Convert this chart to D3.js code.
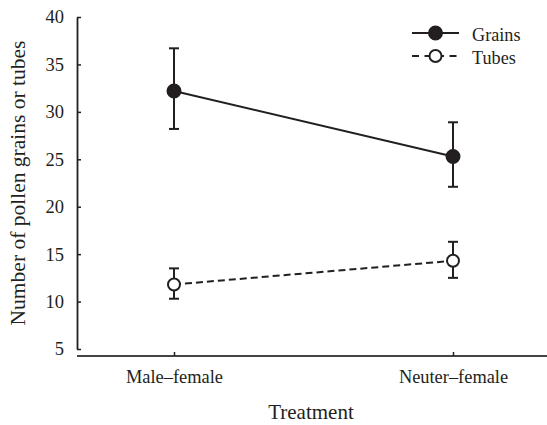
<!DOCTYPE html>
<html>
<head>
<meta charset="utf-8">
<script src="https://cdn.jsdelivr.net/npm/d3@7"></script>
<style>
  body { margin: 0; background: #fff; }
  text { font-family: "Liberation Serif", "DejaVu Serif", serif; fill: #231f20; }
</style>
</head>
<body>
<div id="chart"></div>
<script>
const treatments = ["Male\u2013female", "Neuter\u2013female"];
const grainsMean = [32.2, 25.3];
const grainsLow = [28.2, 22.1];
const grainsHigh = [36.7, 28.9];
const tubesMean = [11.8, 14.3];
const tubesLow = [10.3, 12.5];
const tubesHigh = [13.5, 16.3];
const yTicks = [5, 10, 15, 20, 25, 30, 35, 40];

const ink = "#231f20";
const width = 547, height = 425;

const svg = d3.select("#chart")
    .append("svg")
    .attr("width", width)
    .attr("height", height);

const x = d3.scalePoint()
    .domain(treatments)
    .range([174, 453]);

const y = d3.scaleLinear()
    .domain([5, 40])
    .range([349, 17]);

// y axis, ticks pointing inward
const yAxis = svg.append("g")
    .attr("transform", "translate(77,0)")
    .call(d3.axisRight(y).tickValues(yTicks).tickSize(4).tickSizeOuter(0));
yAxis.select(".domain").attr("stroke", ink).attr("stroke-width", 1.8);
yAxis.selectAll(".tick line").attr("stroke", ink).attr("stroke-width", 1.5);
yAxis.selectAll(".tick text")
    .attr("x", -13)
    .attr("text-anchor", "end")
    .attr("font-size", 18.5)
    .attr("fill", ink);

// x axis: long baseline, small ticks pointing up
const xAxis = svg.append("g")
    .attr("transform", "translate(0,356)")
    .call(d3.axisTop(x).tickSize(4).tickSizeOuter(0));
xAxis.select(".domain").attr("d", "M77,0H547").attr("stroke", "#444").attr("stroke-width", 1.8);
xAxis.selectAll(".tick line").attr("stroke", ink).attr("stroke-width", 1.5);
xAxis.selectAll(".tick text")
    .attr("y", 27)
    .attr("font-size", 18.4)
    .attr("fill", ink);

// axis titles
svg.append("text")
    .attr("transform", "translate(25,183) rotate(-90)")
    .attr("text-anchor", "middle")
    .attr("font-size", 21.5)
    .text("Number of pollen grains or tubes");

svg.append("text")
    .attr("x", 311)
    .attr("y", 419)
    .attr("text-anchor", "middle")
    .attr("font-size", 21)
    .text("Treatment");

const series = [
    { name: "Grains", mean: grainsMean, low: grainsLow, high: grainsHigh, dash: null, fill: ink, r: 6.5 },
    { name: "Tubes", mean: tubesMean, low: tubesLow, high: tubesHigh, dash: "7,4", fill: "#fff", r: 6 }
];

const line = d3.line()
    .x(d => x(d.t))
    .y(d => y(d.v));

series.forEach(s => {
    const pts = treatments.map((t, i) => ({ t: t, v: s.mean[i], lo: s.low[i], hi: s.high[i] }));
    const g = svg.append("g");

    g.append("path")
        .datum(pts)
        .attr("fill", "none")
        .attr("stroke", ink)
        .attr("stroke-width", 2)
        .attr("stroke-dasharray", s.dash)
        .attr("d", line);

    // error bars
    const eb = g.selectAll(".err")
        .data(pts)
        .enter().append("g")
        .attr("stroke", ink)
        .attr("stroke-width", 2);
    eb.append("line")
        .attr("x1", d => x(d.t)).attr("x2", d => x(d.t))
        .attr("y1", d => y(d.lo)).attr("y2", d => y(d.hi));
    eb.append("line")
        .attr("x1", d => x(d.t) - 5).attr("x2", d => x(d.t) + 5)
        .attr("y1", d => y(d.lo)).attr("y2", d => y(d.lo));
    eb.append("line")
        .attr("x1", d => x(d.t) - 5).attr("x2", d => x(d.t) + 5)
        .attr("y1", d => y(d.hi)).attr("y2", d => y(d.hi));

    g.selectAll("circle")
        .data(pts)
        .enter().append("circle")
        .attr("cx", d => x(d.t))
        .attr("cy", d => y(d.v))
        .attr("r", s.r)
        .attr("fill", s.fill)
        .attr("stroke", ink)
        .attr("stroke-width", 2);
});

// legend
const legend = svg.append("g").attr("transform", "translate(412,33)");
series.forEach((s, i) => {
    const row = legend.append("g").attr("transform", `translate(0,${i * 23})`);
    row.append("line")
        .attr("x1", 0).attr("x2", 47)
        .attr("stroke", ink)
        .attr("stroke-width", 2)
        .attr("stroke-dasharray", s.dash ? "7,5.5" : null);
    row.append("circle")
        .attr("cx", 23.5)
        .attr("r", s.r)
        .attr("fill", s.fill)
        .attr("stroke", ink)
        .attr("stroke-width", 2);
    row.append("text")
        .attr("x", 60)
        .attr("y", 7.5)
        .attr("font-size", 18.2)
        .text(s.name);
});
</script>
</body>
</html>
